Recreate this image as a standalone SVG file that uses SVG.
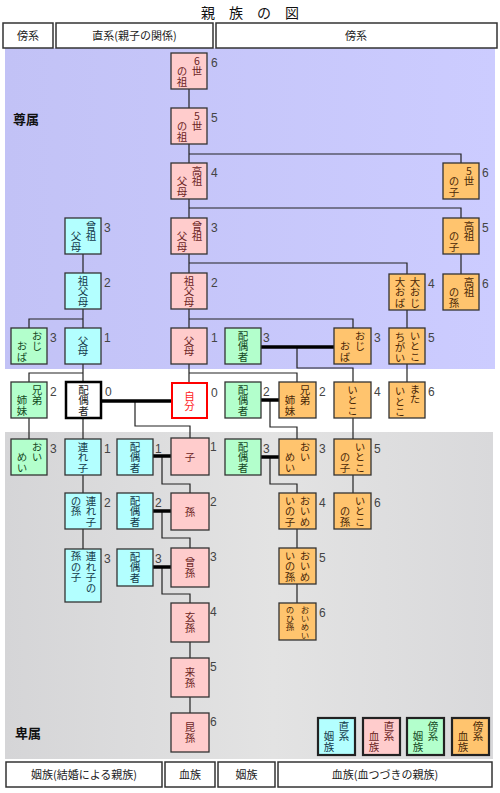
<svg xmlns="http://www.w3.org/2000/svg" width="500" height="793" viewBox="0 0 500 793">
<defs>
<linearGradient id="gBlue" x1="0" y1="0" x2="1" y2="0">
<stop offset="0" stop-color="#c2c2f6"/><stop offset="1" stop-color="#ccccff"/>
</linearGradient>
<linearGradient id="gGray" x1="0" y1="0" x2="1" y2="0">
<stop offset="0" stop-color="#d5d5d7"/><stop offset="0.55" stop-color="#e3e3e3"/><stop offset="1" stop-color="#d9d9db"/>
</linearGradient>
</defs>
<style>
.hd{fill:#fff;stroke:#333;stroke-width:1.5}
.ht{font-family:"Noto Sans CJK JP",sans-serif;font-size:11px;text-anchor:middle;fill:#222}
.box{stroke:#333;stroke-width:1.3}
.p{fill:#ffcccc}.c{fill:#b3ffff}.g{fill:#b3ffcc}.o{fill:#ffc46e}
.lg{stroke:#222;stroke-width:2.2}
.t{font-family:"Noto Sans CJK JP",sans-serif;font-size:10.5px;text-anchor:middle}
.v{font-family:"Noto Sans CJK JP",sans-serif;font-size:10.5px;writing-mode:vertical-rl;text-orientation:upright;text-anchor:start}
.tp{fill:#6b1f1f}.tc{fill:#13394a}.tg{fill:#154a1f}.to{fill:#4a2808}
.sm{font-size:8.5px}
.n{font-family:"Liberation Sans",Arial,sans-serif;font-size:12px;fill:#444}
.ln{fill:none;stroke:#222;stroke-width:1.2}
.th{fill:none;stroke:#000;stroke-width:3.5}
.lab{font-family:"Noto Sans CJK JP",sans-serif;font-size:13px;font-weight:bold;fill:#111}
</style>
<rect width="500" height="793" fill="#fff"/>
<g id="areas">
<rect x="5" y="48" width="490" height="321" fill="url(#gBlue)"/>
<rect x="5" y="432" width="488" height="327" fill="url(#gGray)"/>
<text class="lab" x="13" y="124">尊属</text>
<text class="lab" x="15" y="738">卑属</text>
</g>
<g id="title">
<text x="250" y="18" font-family="'Noto Sans CJK JP',sans-serif" font-size="14" fill="#111" text-anchor="middle">親　族　の　図</text>
</g>
<g id="header">
<rect class="hd" x="3" y="23" width="50" height="25"/>
<text class="ht" x="28" y="40">傍系</text>
<rect class="hd" x="56" y="23" width="157" height="25"/>
<text class="ht" x="134.5" y="40">直系(親子の関係)</text>
<rect class="hd" x="216" y="23" width="281" height="25"/>
<text class="ht" x="356" y="40">傍系</text>
</g>
<g id="footer">
<rect class="hd" x="6" y="762" width="156" height="25"/>
<text class="ht" x="84" y="779">姻族(結婚による親族)</text>
<rect class="hd" x="165" y="762" width="50" height="25"/>
<text class="ht" x="190" y="779">血族</text>
<rect class="hd" x="218" y="762" width="57" height="25"/>
<text class="ht" x="246.5" y="779">姻族</text>
<rect class="hd" x="278" y="762" width="214" height="25"/>
<text class="ht" x="385" y="779">血族(血つづきの親族)</text>
</g>
<g id="connectors">
<path class="ln" d="M189,89 V383"/>
<path class="ln" d="M189,154 H461 V163"/>
<path class="ln" d="M189,208 H461 V218"/>
<path class="ln" d="M461,254 V274"/>
<path class="ln" d="M189,263 H407 V274"/>
<path class="ln" d="M407,310 V382"/>
<path class="ln" d="M189,319 H353 V328"/>
<path class="ln" d="M297,347 V368 H353 V382"/>
<path class="ln" d="M353,418 V493"/>
<path class="ln" d="M189,373 H297 V382"/>
<path class="ln" d="M270,400 V427 H297 V439"/>
<path class="ln" d="M270,457 V484 H297 V493"/>
<path class="ln" d="M297,529 V603"/>
<path class="ln" d="M83,254 V382"/>
<path class="ln" d="M83,319 H29 V328"/>
<path class="ln" d="M83,373 H29 V382"/>
<path class="ln" d="M83,418 V549"/>
<path class="ln" d="M29,418 V439"/>
<path class="ln" d="M135,401 V426 H190 V438"/>
<path class="ln" d="M162,456 V484 H190 V493"/>
<path class="ln" d="M162,511 V538 H190 V548"/>
<path class="ln" d="M162,567 V594 H190 V603"/>
<path class="ln" d="M190,642 V713"/>
<path class="th" d="M101,401 H172"/>
<path class="th" d="M153,456 H171"/>
<path class="th" d="M153,511 H171"/>
<path class="th" d="M153,567 H171"/>
<path class="th" d="M261,347 H334"/>
<path class="th" d="M261,400 H279"/>
<path class="th" d="M261,457 H279"/>
</g>
<g id="n-6sei"><rect class="box p" x="171" y="53" width="36" height="36"/><text class="v tp" x="197" y="55.75">6世</text><text class="v tp" x="182" y="66.25">の祖</text><text class="n" x="211" y="67">6</text></g>
<g id="n-5sei"><rect class="box p" x="171" y="108" width="36" height="36"/><text class="v tp" x="197" y="110.75">5世</text><text class="v tp" x="182" y="121.25">の祖</text><text class="n" x="211" y="122">5</text></g>
<g id="n-koso"><rect class="box p" x="171" y="163" width="36" height="36"/><text class="v tp" x="197" y="165.75">高祖</text><text class="v tp" x="182" y="176.25">父母</text><text class="n" x="211" y="177">4</text></g>
<g id="n-sou"><rect class="box p" x="171" y="218" width="36" height="36"/><text class="v tp" x="197" y="220.75">曾祖</text><text class="v tp" x="182" y="231.25">父母</text><text class="n" x="211" y="232">3</text></g>
<g id="n-sofubo"><rect class="box p" x="171" y="273" width="36" height="36"/><text class="v tp" x="189" y="275.75">祖父母</text><text class="n" x="211" y="287">2</text></g>
<g id="n-fubo"><rect class="box p" x="171" y="328" width="36" height="36"/><text class="v tp" x="189" y="335.5">父母</text><text class="n" x="211" y="342">1</text></g>
<g id="n-jibun"><rect x="172" y="383" width="35" height="35" fill="#fff" stroke="#f00" stroke-width="2"/><text class="v" fill="#f22" x="189.5" y="390.5">自分</text><text class="n" x="211" y="397">0</text></g>
<g id="n-ko"><rect class="box p" x="171" y="438" width="38" height="37"/><text class="t tp" x="190" y="460.5">子</text><text class="n" x="210" y="451">1</text></g>
<g id="n-mago"><rect class="box p" x="171" y="493" width="38" height="37"/><text class="t tp" x="190" y="515.5">孫</text><text class="n" x="210" y="506">2</text></g>
<g id="n-himago"><rect class="box p" x="171" y="548" width="38" height="39"/><text class="v tp" x="190" y="557">曾孫</text><text class="n" x="210" y="561">3</text></g>
<g id="n-genson"><rect class="box p" x="171" y="603" width="38" height="39"/><text class="v tp" x="190" y="612">玄孫</text><text class="n" x="210" y="616">4</text></g>
<g id="n-raison"><rect class="box p" x="171" y="658" width="38" height="39"/><text class="v tp" x="190" y="667">来孫</text><text class="n" x="210" y="671">5</text></g>
<g id="n-konson"><rect class="box p" x="171" y="713" width="38" height="39"/><text class="v tp" x="190" y="722">昆孫</text><text class="n" x="210" y="726">6</text></g>
<g id="c-sou"><rect class="box c" x="65" y="218" width="36" height="36"/><text class="v tc" x="91" y="220.75">曾祖</text><text class="v tc" x="76" y="231.25">父母</text><text class="n" x="104" y="232">3</text></g>
<g id="c-sofubo"><rect class="box c" x="65" y="273" width="36" height="36"/><text class="v tc" x="83" y="275.75">祖父母</text><text class="n" x="104" y="287">2</text></g>
<g id="c-fubo"><rect class="box c" x="65" y="328" width="36" height="36"/><text class="v tc" x="83" y="335.5">父母</text><text class="n" x="104" y="342">1</text></g>
<g id="spouse"><rect x="66" y="382" width="35" height="36" fill="#fff" stroke="#000" stroke-width="2.5"/><text class="v" fill="#222" x="83.5" y="384.75">配偶者</text><text class="n" x="105" y="396">0</text></g>
<g id="c-tsureko"><rect class="box c" x="65" y="439" width="36" height="36"/><text class="v tc" x="83" y="441.75">連れ子</text><text class="n" x="104" y="453">1</text></g>
<g id="c-tsureko-mago"><rect class="box c" x="65" y="493" width="36" height="36"/><text class="v tc" x="91" y="495.75">連れ子</text><text class="v tc" x="76" y="495.75">の孫</text><text class="n" x="104" y="507">2</text></g>
<g id="c-tsureko-mago-ko"><rect class="box c" x="65" y="549" width="36" height="53"/><text class="v tc" x="91" y="551">連れ子の</text><text class="v tc" x="76" y="551">孫の子</text><text class="n" x="104" y="563">3</text></g>
<g id="c-sp1"><rect class="box c" x="117" y="439" width="36" height="36"/><text class="v tc" x="135" y="441.75">配偶者</text><text class="n" x="155" y="453">1</text></g>
<g id="c-sp2"><rect class="box c" x="117" y="493" width="36" height="36"/><text class="v tc" x="135" y="495.75">配偶者</text><text class="n" x="155" y="507">2</text></g>
<g id="c-sp3"><rect class="box c" x="117" y="549" width="36" height="37"/><text class="v tc" x="135" y="551.75">配偶者</text><text class="n" x="155" y="563">3</text></g>
<g id="g-ojioba"><rect class="box g" x="11" y="328" width="36" height="36"/><text class="v tg" x="37" y="330.75">おじ</text><text class="v tg" x="22" y="341.25">おば</text><text class="n" x="50" y="342">3</text></g>
<g id="g-kyodai"><rect class="box g" x="11" y="382" width="36" height="36"/><text class="v tg" x="37" y="384.75">兄弟</text><text class="v tg" x="22" y="395.25">姉妹</text><text class="n" x="50" y="396">2</text></g>
<g id="g-oimei"><rect class="box g" x="11" y="439" width="36" height="36"/><text class="v tg" x="37" y="441.75">おい</text><text class="v tg" x="22" y="452.25">めい</text><text class="n" x="50" y="453">3</text></g>
<g id="g-sp-oji"><rect class="box g" x="225" y="328" width="36" height="36"/><text class="v tg" x="243" y="330.75">配偶者</text><text class="n" x="263" y="342">3</text></g>
<g id="g-sp-kyodai"><rect class="box g" x="225" y="382" width="36" height="36"/><text class="v tg" x="243" y="384.75">配偶者</text><text class="n" x="263" y="396">2</text></g>
<g id="g-sp-oimei"><rect class="box g" x="225" y="439" width="36" height="36"/><text class="v tg" x="243" y="441.75">配偶者</text><text class="n" x="263" y="453">3</text></g>
<g id="o-kyodai"><rect class="box o" x="279" y="382" width="37" height="36"/><text class="v to" x="305" y="384.75">兄弟</text><text class="v to" x="290" y="395.25">姉妹</text><text class="n" x="319" y="396">2</text></g>
<g id="o-oimei"><rect class="box o" x="279" y="439" width="37" height="36"/><text class="v to" x="305" y="441.75">おい</text><text class="v to" x="290" y="452.25">めい</text><text class="n" x="319" y="453">3</text></g>
<g id="o-oimei-ko"><rect class="box o" x="279" y="493" width="37" height="36"/><text class="v to" x="305" y="495.75">おいめ</text><text class="v to" x="290" y="495.75">いの子</text><text class="n" x="319" y="507">4</text></g>
<g id="o-oimei-mago"><rect class="box o" x="279" y="548" width="37" height="36"/><text class="v to" x="305" y="550.75">おいめ</text><text class="v to" x="290" y="550.75">いの孫</text><text class="n" x="319" y="562">5</text></g>
<g id="o-oimei-himago"><rect class="box o" x="279" y="603" width="37" height="37"/><text class="v to sm" x="305" y="605.75">おいめい</text><text class="v to sm" x="290" y="605.75">のひ孫</text><text class="n" x="319" y="617">6</text></g>
<g id="o-ojioba"><rect class="box o" x="334" y="328" width="37" height="36"/><text class="v to" x="360" y="330.75">おじ</text><text class="v to" x="345" y="341.25">おば</text><text class="n" x="374" y="342">3</text></g>
<g id="o-itoko"><rect class="box o" x="334" y="382" width="37" height="36"/><text class="v to" x="352.5" y="384.75">いとこ</text><text class="n" x="374" y="396">4</text></g>
<g id="o-itoko-ko"><rect class="box o" x="334" y="439" width="37" height="36"/><text class="v to" x="360" y="441.75">いとこ</text><text class="v to" x="345" y="452.25">の子</text><text class="n" x="374" y="453">5</text></g>
<g id="o-itoko-mago"><rect class="box o" x="334" y="493" width="37" height="36"/><text class="v to" x="360" y="495.75">いとこ</text><text class="v to" x="345" y="506.25">の孫</text><text class="n" x="374" y="507">6</text></g>
<g id="o-ooji"><rect class="box o" x="389" y="274" width="36" height="36"/><text class="v to" x="415" y="276.75">大おじ</text><text class="v to" x="400" y="276.75">大おば</text><text class="n" x="428" y="288">4</text></g>
<g id="o-itokochigai"><rect class="box o" x="389" y="328" width="36" height="36"/><text class="v to" x="415" y="330.75">いとこ</text><text class="v to" x="400" y="331.5">ちがい</text><text class="n" x="428" y="342">5</text></g>
<g id="o-mataitoko"><rect class="box o" x="389" y="382" width="36" height="36"/><text class="v to" x="415" y="383.5">また</text><text class="v to" x="400" y="386">いとこ</text><text class="n" x="428" y="396">6</text></g>
<g id="o-5sei-ko"><rect class="box o" x="443" y="163" width="36" height="36"/><text class="v to" x="469" y="165.75">5世</text><text class="v to" x="454" y="176.25">の子</text><text class="n" x="482" y="177">6</text></g>
<g id="o-koso-ko"><rect class="box o" x="443" y="218" width="36" height="36"/><text class="v to" x="469" y="220.75">高祖</text><text class="v to" x="454" y="231.25">の子</text><text class="n" x="482" y="232">5</text></g>
<g id="o-koso-mago"><rect class="box o" x="443" y="274" width="36" height="36"/><text class="v to" x="469" y="276.75">高祖</text><text class="v to" x="454" y="287.25">の孫</text><text class="n" x="482" y="288">6</text></g>
<g id="legend">
<g id="lg-c"><rect class="lg c" x="318" y="718" width="37" height="37"/><text class="v tc" x="344" y="720.75">直系</text><text class="v tc" x="329" y="731.25">姻族</text></g>
<g id="lg-p"><rect class="lg p" x="363" y="718" width="37" height="37"/><text class="v tp" x="389" y="720.75">直系</text><text class="v tp" x="374" y="731.25">血族</text></g>
<g id="lg-g"><rect class="lg g" x="407" y="718" width="37" height="37"/><text class="v tg" x="433" y="720.75">傍系</text><text class="v tg" x="418" y="731.25">姻族</text></g>
<g id="lg-o"><rect class="lg o" x="452" y="718" width="37" height="37"/><text class="v to" x="478" y="720.75">傍系</text><text class="v to" x="463" y="731.25">血族</text></g>
</g>
</svg>
